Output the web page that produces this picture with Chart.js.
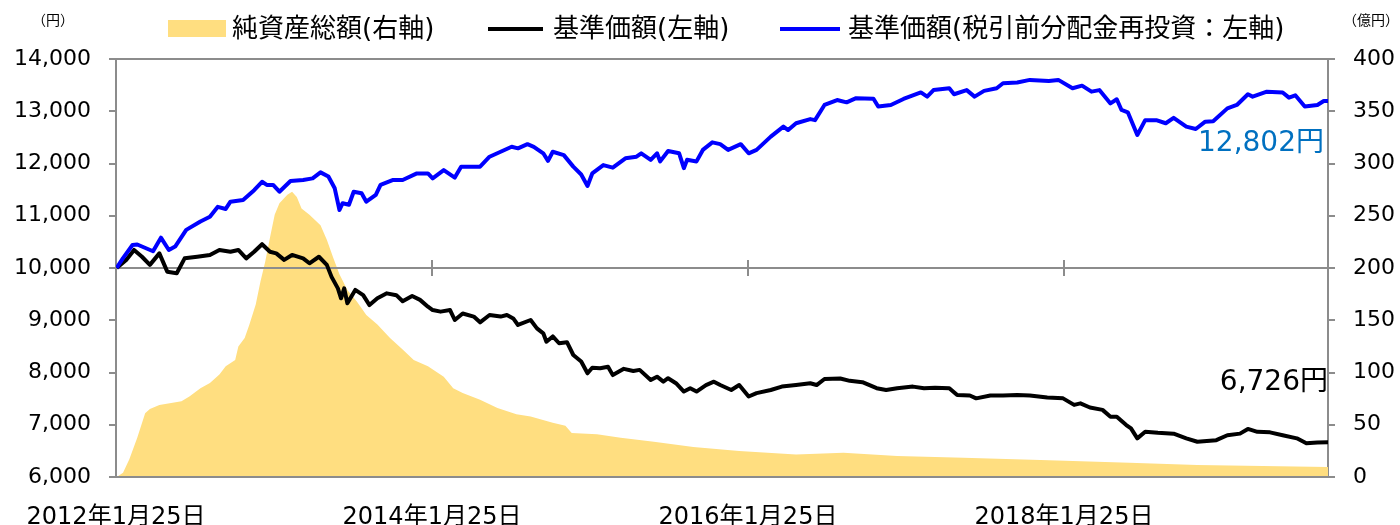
<!DOCTYPE html>
<html><head><meta charset="utf-8">
<script src="https://cdn.jsdelivr.net/npm/chart.js@4.4.1/dist/chart.umd.min.js"></script>
<style>html,body{margin:0;padding:0;background:#fff}#wrap{width:1400px;height:525px;position:relative}</style>
</head><body><div id="wrap"><canvas id="c" width="1400" height="525"></canvas></div>
<script>
// ---- data (x values are fractional years) ----
const seriesNames = ['純資産総額(右軸)', '基準価額(左軸)', '基準価額(税引前分配金再投資：左軸)'];
const tickDates = ['2012-01-25', '2014-01-25', '2016-01-25', '2018-01-25'];
const tickLabels = ['2012年1月25日', '2014年1月25日', '2016年1月25日', '2018年1月25日'];
const startDate = '2012-01-25';
const endDate = '2019-09-27';

const reinvYears = [2012.07,2012.11,2012.17,2012.20,2012.30,2012.35,2012.40,2012.44,2012.51,2012.60,2012.66,2012.71,2012.76,2012.79,2012.87,2012.94,2012.99,2013.02,2013.06,2013.10,2013.17,2013.25,2013.31,2013.36,2013.41,2013.45,2013.48,2013.50,2013.54,2013.57,2013.62,2013.65,2013.71,2013.74,2013.82,2013.88,2013.97,2014.04,2014.07,2014.14,2014.21,2014.25,2014.37,2014.43,2014.50,2014.57,2014.61,2014.67,2014.71,2014.77,2014.80,2014.83,2014.90,2014.96,2015.01,2015.05,2015.08,2015.15,2015.21,2015.29,2015.36,2015.39,2015.45,2015.49,2015.51,2015.56,2015.63,2015.66,2015.68,2015.74,2015.78,2015.84,2015.89,2015.94,2016.02,2016.07,2016.12,2016.21,2016.29,2016.32,2016.37,2016.46,2016.49,2016.55,2016.63,2016.69,2016.75,2016.86,2016.89,2016.97,2017.05,2017.16,2017.20,2017.24,2017.34,2017.37,2017.45,2017.50,2017.56,2017.64,2017.68,2017.77,2017.85,2017.97,2018.03,2018.12,2018.18,2018.24,2018.29,2018.36,2018.40,2018.43,2018.47,2018.53,2018.58,2018.65,2018.71,2018.76,2018.84,2018.90,2018.96,2019.01,2019.10,2019.16,2019.23,2019.26,2019.35,2019.45,2019.49,2019.53,2019.59,2019.67,2019.71,2019.74];
const reinvValues = [10000,10190,10440,10450,10320,10580,10345,10410,10730,10890,10980,11170,11130,11270,11300,11490,11650,11590,11590,11460,11665,11685,11715,11830,11750,11525,11110,11240,11210,11460,11430,11270,11400,11590,11685,11685,11810,11810,11715,11875,11730,11940,11940,12130,12225,12320,12290,12370,12320,12195,12050,12225,12160,11940,11790,11570,11810,11970,11920,12100,12130,12195,12070,12195,12040,12240,12195,11910,12070,12040,12260,12405,12370,12260,12370,12195,12260,12515,12705,12640,12770,12850,12830,13120,13215,13170,13250,13240,13090,13120,13235,13360,13280,13405,13440,13325,13405,13280,13390,13440,13535,13550,13600,13580,13600,13440,13490,13375,13405,13150,13230,13025,12980,12545,12830,12830,12770,12875,12705,12660,12800,12810,13055,13120,13325,13280,13375,13360,13260,13305,13090,13120,13195,13195];

const navYears = [2012.07,2012.13,2012.18,2012.23,2012.28,2012.34,2012.39,2012.45,2012.50,2012.58,2012.66,2012.72,2012.79,2012.84,2012.89,2012.94,2012.99,2013.04,2013.08,2013.13,2013.18,2013.25,2013.29,2013.35,2013.40,2013.43,2013.47,2013.49,2013.51,2013.53,2013.58,2013.63,2013.67,2013.72,2013.78,2013.84,2013.88,2013.94,2013.99,2014.04,2014.07,2014.12,2014.18,2014.21,2014.26,2014.33,2014.37,2014.43,2014.50,2014.54,2014.58,2014.61,2014.69,2014.73,2014.77,2014.79,2014.83,2014.87,2014.92,2014.96,2015.01,2015.05,2015.08,2015.13,2015.18,2015.21,2015.28,2015.34,2015.38,2015.45,2015.49,2015.53,2015.56,2015.61,2015.66,2015.70,2015.74,2015.80,2015.85,2015.89,2015.96,2016.01,2016.07,2016.12,2016.21,2016.28,2016.37,2016.46,2016.50,2016.55,2016.65,2016.71,2016.79,2016.88,2016.94,2017.01,2017.11,2017.18,2017.25,2017.34,2017.39,2017.47,2017.51,2017.60,2017.68,2017.77,2017.85,2017.96,2018.06,2018.13,2018.17,2018.23,2018.31,2018.36,2018.40,2018.46,2018.49,2018.53,2018.58,2018.66,2018.76,2018.84,2018.91,2019.03,2019.10,2019.18,2019.23,2019.29,2019.37,2019.45,2019.54,2019.60,2019.67,2019.74];
const navValues = [10000,10155,10345,10215,10060,10280,9930,9900,10185,10215,10250,10345,10310,10345,10185,10310,10455,10310,10280,10155,10250,10185,10090,10215,10060,9830,9610,9420,9610,9325,9580,9480,9290,9420,9515,9480,9365,9465,9390,9260,9195,9165,9195,9005,9130,9070,8960,9100,9070,9100,9035,8910,9005,8845,8750,8590,8690,8560,8580,8335,8210,7985,8090,8080,8110,7950,8070,8030,8050,7855,7920,7825,7890,7795,7635,7700,7635,7760,7825,7760,7665,7760,7540,7605,7665,7730,7760,7795,7760,7875,7885,7840,7815,7700,7665,7700,7730,7700,7710,7700,7570,7560,7505,7560,7560,7570,7560,7520,7505,7380,7410,7330,7285,7155,7155,6995,6930,6740,6865,6845,6830,6740,6675,6705,6800,6830,6920,6865,6855,6800,6740,6645,6660,6665];

const assetYears = [2012.07,2012.11,2012.15,2012.20,2012.25,2012.28,2012.34,2012.48,2012.53,2012.60,2012.66,2012.72,2012.76,2012.82,2012.84,2012.88,2012.91,2012.95,2012.98,2013.01,2013.04,2013.07,2013.10,2013.15,2013.18,2013.21,2013.24,2013.29,2013.36,2013.40,2013.44,2013.48,2013.53,2013.59,2013.65,2013.72,2013.80,2013.88,2013.95,2014.04,2014.14,2014.20,2014.26,2014.37,2014.48,2014.60,2014.69,2014.83,2014.91,2014.95,2015.11,2015.26,2015.47,2015.72,2016.01,2016.37,2016.67,2017.01,2017.43,2017.97,2018.48,2018.91,2019.74];
const assetValues = [0,4,17,37.5,61,65,69,72.5,77,85,90,98,106,112,125,133,146,165,187,206,229,251,262,270,273,268,257,251,241,227,210,194,179,168,155,146,133,122,112,106,96,85,80.5,74,66,60,58,52,49,42,41,37.6,33.7,28.6,24.8,21.6,23.2,20,18.4,16,13.7,11.4,9.5];

const endLabels = ['12,802円', '6,726円'];
const endLabelLevels = [12370, 7800];
const leftUnit = '（円）';
const rightUnit = '（億円）';
const leftRange = [6000, 14000, 1000];
const rightRange = [0, 400, 50];
const baseLevel = 10000;

// ---- styles ----
const FONT = "'DejaVu Sans','Noto Sans CJK JP',sans-serif";
const GREY = '#8c8c8c';
const colAsset = '#FFDE80', colNav = '#000000', colReinv = '#0000FF', colLabel1 = '#0070C0';

function toYear(s) {
  const [y, m, d] = s.split('-').map(Number);
  const start = Date.UTC(y, 0, 1), next = Date.UTC(y + 1, 0, 1);
  return y + (Date.UTC(y, m - 1, d) - start) / (next - start);
}
const pts = (xs, ys) => xs.map((x, i) => ({x, y: ys[i]}));

const overlay = {
  id: 'overlay',
  beforeDatasetDraw(chart, args) {
    if (args.index !== 1) return;
    const {ctx, chartArea: a, scales} = chart;
    const y0 = scales.y.getPixelForValue(baseLevel);
    ctx.save();
    ctx.strokeStyle = GREY; ctx.lineWidth = 2;
    ctx.beginPath(); ctx.moveTo(a.left, y0); ctx.lineTo(a.right, y0); ctx.stroke();
    scales.x.ticks.forEach((t, i) => {
      if (i === 0) return;
      const x = Math.round(scales.x.getPixelForValue(t.value));
      ctx.beginPath(); ctx.moveTo(x, y0 - 8); ctx.lineTo(x, y0 + 8); ctx.stroke();
    });
    ctx.restore();
  },
  afterDraw(chart) {
    const {ctx, chartArea: a, scales} = chart;
    ctx.save();
    // frame top/bottom
    ctx.strokeStyle = GREY; ctx.lineWidth = 2;
    ctx.beginPath();
    ctx.moveTo(a.left - 7, a.top); ctx.lineTo(a.right + 7, a.top);
    ctx.moveTo(a.left - 7, a.bottom); ctx.lineTo(a.right + 7, a.bottom);
    ctx.stroke();
    // legend
    ctx.textBaseline = 'middle'; ctx.textAlign = 'left';
    ctx.font = '26px ' + FONT; ctx.fillStyle = '#000';
    const ly = 30;
    ctx.fillStyle = colAsset; ctx.fillRect(168, 20, 58, 17);
    ctx.fillStyle = '#000'; ctx.fillText(seriesNames[0], 232, ly);
    ctx.strokeStyle = colNav; ctx.lineWidth = 4;
    ctx.beginPath(); ctx.moveTo(488, 29); ctx.lineTo(543, 29); ctx.stroke();
    ctx.fillText(seriesNames[1], 553, ly);
    ctx.strokeStyle = colReinv;
    ctx.beginPath(); ctx.moveTo(780, 29); ctx.lineTo(840, 29); ctx.stroke();
    ctx.fillText(seriesNames[2], 848, ly);
    // units
    ctx.font = '14px ' + FONT;
    ctx.textAlign = 'center';
    ctx.fillText(leftUnit, 53, 21);
    ctx.fillText(rightUnit, 1371, 21);
    // end labels
    ctx.font = '28px ' + FONT; ctx.textAlign = 'right';
    ctx.fillStyle = colLabel1;
    ctx.fillText(endLabels[0], a.right - 4, scales.y.getPixelForValue(endLabelLevels[0]));
    ctx.fillStyle = '#000';
    ctx.fillText(endLabels[1], a.right, scales.y.getPixelForValue(endLabelLevels[1]));
    ctx.restore();
  }
};

new Chart(document.getElementById('c'), {
  type: 'line',
  data: {
    datasets: [
      {label: seriesNames[0], data: pts(assetYears, assetValues), yAxisID: 'y1', fill: 'origin',
       backgroundColor: colAsset, borderWidth: 0, pointRadius: 0, order: 3},
      {label: seriesNames[1], data: pts(navYears, navValues), yAxisID: 'y', borderColor: colNav,
       borderWidth: 4, pointRadius: 0, fill: false, order: 2, borderJoinStyle: 'round'},
      {label: seriesNames[2], data: pts(reinvYears, reinvValues), yAxisID: 'y', borderColor: colReinv,
       borderWidth: 4, pointRadius: 0, fill: false, order: 1, borderJoinStyle: 'round'}
    ]
  },
  options: {
    responsive: false, animation: false, devicePixelRatio: 1,
    layout: {padding: {top: 59, left: 0, right: 0, bottom: 0}},
    plugins: {legend: {display: false}, tooltip: {enabled: false}},
    scales: {
      x: {
        type: 'linear', position: 'bottom', min: toYear(startDate), max: toYear(endDate),
        afterBuildTicks: s => { s.ticks = tickDates.map(d => ({value: toYear(d)})); },
        afterFit: s => { s.height = 48; },
        ticks: {callback: (v, i) => tickLabels[i], font: {family: FONT, size: 24}, color: '#000',
                padding: 18, maxRotation: 0, autoSkip: false},
        grid: {display: false}, border: {display: false}
      },
      y: {
        position: 'left', min: leftRange[0], max: leftRange[1],
        afterBuildTicks: s => { const t = []; for (let v = leftRange[0]; v <= leftRange[1]; v += leftRange[2]) t.push({value: v}); s.ticks = t; },
        afterFit: s => { s.width = 116; },
        ticks: {callback: v => v.toLocaleString('en-US'), font: {family: FONT, size: 22}, color: '#000', padding: 18},
        grid: {drawOnChartArea: false, drawTicks: true, tickLength: 7, color: GREY, lineWidth: 2},
        border: {display: true, color: GREY, width: 2}
      },
      y1: {
        position: 'right', min: rightRange[0], max: rightRange[1],
        afterBuildTicks: s => { const t = []; for (let v = rightRange[0]; v <= rightRange[1]; v += rightRange[2]) t.push({value: v}); s.ticks = t; },
        afterFit: s => { s.width = 72; },
        ticks: {callback: v => String(v), font: {family: FONT, size: 22}, color: '#000', padding: 18},
        grid: {drawOnChartArea: false, drawTicks: true, tickLength: 7, color: GREY, lineWidth: 2},
        border: {display: true, color: GREY, width: 2}
      }
    }
  },
  plugins: [overlay]
});
</script></body></html>
